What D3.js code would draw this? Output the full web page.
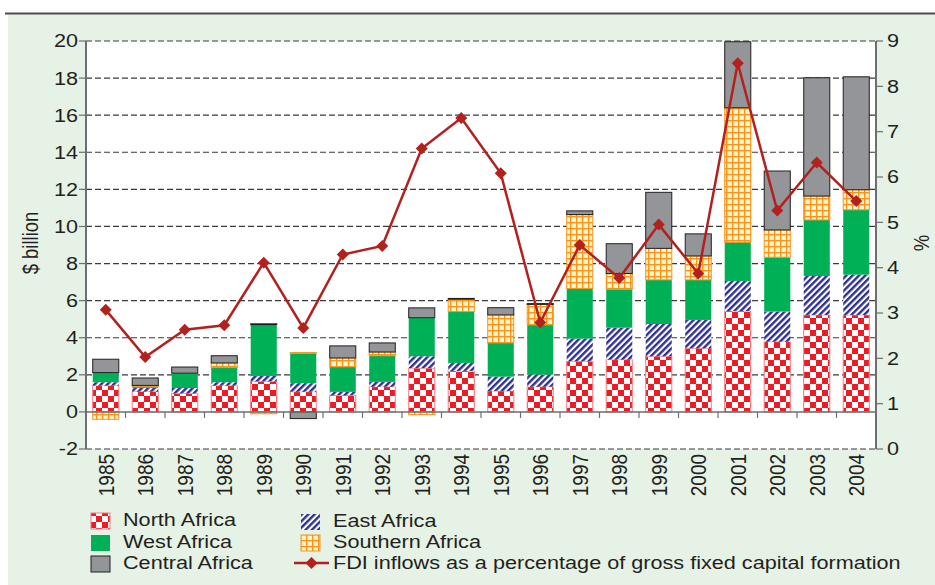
<!DOCTYPE html>
<html>
<head>
<meta charset="utf-8">
<script src="https://cdn.jsdelivr.net/npm/d3@7"></script>
<style>
  html, body { margin: 0; padding: 0; background: #fff; }
  text { font-family: "Liberation Sans", Arial, sans-serif; fill: #231f20; }
</style>
</head>
<body>
<div id="chart"></div>
<script>
// values ($ billion, per region) and FDI share (%)
var years = ["1985","1986","1987","1988","1989","1990","1991","1992","1993","1994",
             "1995","1996","1997","1998","1999","2000","2001","2002","2003","2004"];
var northAfrica    = [1.42,1.10,1.00,1.42,1.65,1.09,0.90,1.36,2.36,2.21,1.13,1.36,2.73,2.82,3.00,3.43,5.44,3.79,5.23,5.23];
var eastAfrica     = [0.18,0.20,0.29,0.18,0.29,0.46,0.18,0.26,0.64,0.43,0.77,0.65,1.22,1.72,1.74,1.53,1.62,1.62,2.10,2.17];
var westAfrica     = [0.52,0.08,0.80,0.79,2.77,1.61,1.35,1.41,2.08,2.77,1.82,2.68,2.70,2.07,2.38,2.16,2.09,2.93,3.02,3.50];
var southernAfrica = [-0.40,0.05,0.00,0.25,-0.10,0.04,0.48,0.20,-0.15,0.67,1.51,1.11,3.99,0.85,1.70,1.29,7.25,1.47,1.29,1.08];
var centralAfrica  = [0.72,0.40,0.33,0.39,0.04,-0.36,0.65,0.49,0.53,0.04,0.39,0.04,0.20,1.61,3.02,1.19,3.56,3.18,6.38,6.09];
var fdiPct         = [3.07,2.03,2.63,2.73,4.11,2.67,4.29,4.48,6.63,7.30,6.08,2.79,4.50,3.77,4.95,3.87,8.51,5.26,6.32,5.47];

var leftTicks = [-2,0,2,4,6,8,10,12,14,16,18,20];
var rightTicks = [0,1,2,3,4,5,6,7,8,9];

var regions = [
  {key: "north", name: "North Africa", values: northAfrica, fill: "url(#checker)", stroke: "#f27c80"},
  {key: "east", name: "East Africa", values: eastAfrica, fill: "url(#stripes)", stroke: "none"},
  {key: "west", name: "West Africa", values: westAfrica, fill: "#00b057", stroke: "none"},
  {key: "southern", name: "Southern Africa", values: southernAfrica, fill: "url(#grid)", stroke: "#f7941d"},
  {key: "central", name: "Central Africa", values: centralAfrica, fill: "#939598", stroke: "#231f20"}
];

var width = 935, height = 585;
var SX = 1.17; // text in the original is a bit wider than Arial
var FS = 18.5;

var svg = d3.select("#chart").append("svg").attr("width", width).attr("height", height);

// patterns
var defs = svg.append("defs");
var chk = defs.append("pattern").attr("id", "checker").attr("patternUnits", "userSpaceOnUse")
  .attr("width", 12).attr("height", 12);
chk.append("rect").attr("width", 12).attr("height", 12).attr("fill", "#fff");
chk.append("rect").attr("width", 6).attr("height", 6).attr("fill", "#ed1c24");
chk.append("rect").attr("x", 6).attr("y", 6).attr("width", 6).attr("height", 6).attr("fill", "#ed1c24");

var str = defs.append("pattern").attr("id", "stripes").attr("patternUnits", "userSpaceOnUse")
  .attr("width", 4.5).attr("height", 4.5).attr("patternTransform", "rotate(45)");
str.append("rect").attr("width", 4.5).attr("height", 4.5).attr("fill", "#fff");
str.append("rect").attr("width", 2.4).attr("height", 4.5).attr("fill", "#2e3192");

var grd = defs.append("pattern").attr("id", "grid").attr("patternUnits", "userSpaceOnUse")
  .attr("width", 6).attr("height", 6);
grd.append("rect").attr("width", 6).attr("height", 6).attr("fill", "#fff4c8");
grd.append("rect").attr("width", 6).attr("height", 1.4).attr("fill", "#f7941d");
grd.append("rect").attr("width", 1.4).attr("height", 6).attr("fill", "#f7941d");

// background
svg.append("rect").attr("x", 8).attr("y", 14).attr("width", width - 8).attr("height", height - 14)
  .attr("fill", "#e6f2e5");
svg.append("line").attr("x1", 5).attr("x2", width).attr("y1", 13.5).attr("y2", 13.5)
  .attr("stroke", "#4d4d4f").attr("stroke-width", 2);

function label(x, y, s, anchor, rot, dy) {
  return svg.append("text")
    .attr("transform", "translate(" + x + "," + y + ") scale(" + SX + ",1)" + (rot ? " rotate(" + rot + ")" : ""))
    .attr("text-anchor", anchor || "start")
    .attr("dy", dy || 0)
    .style("font-size", FS + "px")
    .text(s);
}

var x0 = 86, x1 = 876;
var x = d3.scaleBand().domain(years).range([x0, x1]).paddingInner(0.34).paddingOuter(0.17);
var y = d3.scaleLinear().domain([-2, 20]).range([449, 41]);
var yR = d3.scaleLinear().domain([0, 9]).range([449, 41]);

svg.append("rect").attr("x", x0).attr("y", y(20)).attr("width", x1 - x0).attr("height", y(-2) - y(20))
  .attr("fill", "#fff");

// dashed gridlines
svg.append("g").selectAll("line").data(leftTicks.filter(function(d) { return d !== 0; }))
  .enter().append("line")
  .attr("x1", x0).attr("x2", x1)
  .attr("y1", function(d) { return y(d); }).attr("y2", function(d) { return y(d); })
  .attr("stroke", "#3a3a3a").attr("stroke-width", 1.2).attr("stroke-dasharray", "6,3");

// stacked bars
var table = years.map(function(yr, i) {
  var row = {year: yr};
  regions.forEach(function(r) { row[r.key] = r.values[i]; });
  return row;
});
var stack = d3.stack().keys(regions.map(function(r) { return r.key; })).offset(d3.stackOffsetDiverging);
var series = stack(table);

series.forEach(function(s, si) {
  var r = regions[si];
  svg.append("g").selectAll("rect").data(s.filter(function(d) { return d[1] !== d[0]; }))
    .enter().append("rect")
    .attr("x", function(d) { return x(d.data.year); })
    .attr("width", x.bandwidth())
    .attr("y", function(d) { return y(Math.max(d[0], d[1])); })
    .attr("height", function(d) { return Math.max(0.8, Math.abs(y(d[0]) - y(d[1]))); })
    .attr("fill", r.fill)
    .attr("stroke", r.stroke)
    .attr("stroke-width", 1);
});

// x axis at zero with ticks between categories
svg.append("line").attr("x1", x0).attr("x2", x1).attr("y1", y(0)).attr("y2", y(0))
  .attr("stroke", "#6d6e71").attr("stroke-width", 1.5);
var step = x.step();
svg.append("g").selectAll("line").data(years.slice(1))
  .enter().append("line")
  .attr("x1", function(d) { return x(d) - step * 0.17; })
  .attr("x2", function(d) { return x(d) - step * 0.17; })
  .attr("y1", y(0)).attr("y2", y(0) + 6)
  .attr("stroke", "#6d6e71").attr("stroke-width", 1.2);

// left axis
svg.append("line").attr("x1", x0).attr("x2", x0).attr("y1", y(20)).attr("y2", y(-2))
  .attr("stroke", "#6d6e71").attr("stroke-width", 2);
leftTicks.forEach(function(t) {
  svg.append("line").attr("x1", x0 - 7).attr("x2", x0).attr("y1", y(t)).attr("y2", y(t))
    .attr("stroke", "#6d6e71").attr("stroke-width", 1.2);
  label(78, y(t), String(t), "end", 0, "0.35em");
});

// right axis
svg.append("line").attr("x1", x1).attr("x2", x1).attr("y1", yR(9)).attr("y2", yR(0))
  .attr("stroke", "#6d6e71").attr("stroke-width", 2);
rightTicks.forEach(function(t) {
  svg.append("line").attr("x1", x1).attr("x2", x1 + 7).attr("y1", yR(t)).attr("y2", yR(t))
    .attr("stroke", "#6d6e71").attr("stroke-width", 1.2);
  label(887, yR(t), String(t), "start", 0, "0.35em");
});

// year labels
years.forEach(function(yr) {
  label(x(yr) + x.bandwidth() / 2, 454, yr, "end", -90, "0.36em").style("font-size", "19px");
});

// axis titles
label(30, 243, "$ billion", "middle", -90, "0.35em");
label(921, 243, "%", "middle", -90, "0.35em");

// FDI line
var line = d3.line()
  .x(function(d, i) { return x(years[i]) + x.bandwidth() / 2; })
  .y(function(d) { return yR(d); });
svg.append("path").datum(fdiPct).attr("d", line)
  .attr("fill", "none").attr("stroke", "#b2211e").attr("stroke-width", 2.5);
var diamond = d3.symbol().type(d3.symbolSquare).size(72);
svg.append("g").selectAll("path").data(fdiPct).enter().append("path")
  .attr("d", diamond)
  .attr("transform", function(d, i) {
    return "translate(" + (x(years[i]) + x.bandwidth() / 2) + "," + yR(d) + ") rotate(45)";
  })
  .attr("fill", "#b2211e");

// legend
var legend = [
  {r: regions[0], sx: 91, tx: 123, top: 513, base: 526},
  {r: regions[2], sx: 91, tx: 123, top: 535, base: 548},
  {r: regions[4], sx: 91, tx: 123, top: 556, base: 569},
  {r: regions[1], sx: 301, tx: 333, top: 514, base: 527},
  {r: regions[3], sx: 301, tx: 333, top: 535, base: 548}
];
legend.forEach(function(l) {
  svg.append("rect").attr("x", l.sx).attr("y", l.top).attr("width", 19).attr("height", 16)
    .attr("fill", l.r.fill)
    .attr("stroke", l.r.key === "central" ? "#231f20" : (l.r.key === "west" ? "none" : l.r.stroke))
    .attr("stroke-width", 1);
  label(l.tx, l.base, l.r.name, "start");
});
svg.append("line").attr("x1", 294).attr("x2", 329).attr("y1", 563).attr("y2", 563)
  .attr("stroke", "#b2211e").attr("stroke-width", 2.5);
svg.append("path").attr("d", diamond).attr("transform", "translate(311.5,563) rotate(45)")
  .attr("fill", "#b2211e");
label(333, 569, "FDI inflows as a percentage of gross fixed capital formation", "start");
</script>
</body>
</html>
